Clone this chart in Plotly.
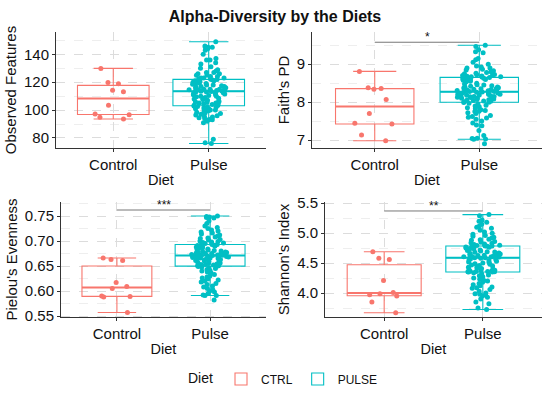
import numpy as np
import plotly.graph_objects as go

# ---------------- data ----------------
groups = ["Control", "Pulse"]
legend_names = ["CTRL", "PULSE"]
colors = ["#F8766D", "#00BFC4"]

obs_control = [93.6, 94.8, 96.7, 97.1, 103.5, 113.1, 114.3, 118.9, 119.8, 129.9]
obs_pulse = [149, 146, 145, 145, 145, 144, 143, 140, 137, 136, 136, 134, 133, 131, 130,
             129, 128, 127, 127, 126, 126, 125, 125, 124, 124, 123, 123, 123, 122.5, 122.2,
             122, 121.5, 121, 121, 120.5, 120, 120, 119.5, 119, 119, 118.5, 118, 118, 117.5, 117,
             117, 116.5, 116, 116, 115.5, 115, 115, 115, 114.5, 114.5, 114, 114, 113.8, 113.6, 113.5,
             113.4, 113, 113, 112.5, 112, 112, 111.5, 111, 111, 110.5, 110, 110, 109.5, 109, 108.5,
             108, 108, 107.5, 107, 106.5, 106, 106, 105.5, 105, 105, 104.5, 104, 104, 103.5, 103.2,
             103, 102.5, 102, 102, 101.5, 101, 101, 100.5, 100, 100, 99.5, 99, 98.5, 98, 97.5,
             97, 96.5, 96, 95.5, 95, 94.5, 94, 93.5, 93, 93, 92, 91, 79, 76.5, 76]

pd_control = [6.98, 7.13, 7.42, 7.44, 7.70, 8.07, 8.34, 8.36, 8.38, 8.81]
pd_pulse = [9.5, 9.47, 9.38, 9.33, 9.3, 9.15, 9.12, 9.05, 9.0, 8.95, 8.93, 8.9, 8.9, 8.87, 8.85,
            8.83, 8.8, 8.78, 8.76, 8.75, 8.73, 8.72, 8.7, 8.7, 8.69, 8.68, 8.67, 8.67, 8.66, 8.66,
            8.65, 8.63, 8.62, 8.6, 8.6, 8.58, 8.56, 8.55, 8.53, 8.5, 8.48, 8.46, 8.45, 8.43, 8.42,
            8.4, 8.4, 8.38, 8.37, 8.36, 8.35, 8.34, 8.33, 8.32, 8.31, 8.3, 8.3, 8.29, 8.28, 8.28,
            8.27, 8.26, 8.25, 8.24, 8.23, 8.22, 8.21, 8.2, 8.2, 8.19, 8.18, 8.17, 8.16, 8.15, 8.15,
            8.14, 8.13, 8.12, 8.11, 8.1, 8.1, 8.08, 8.07, 8.06, 8.05, 8.04, 8.03, 8.02, 8.01, 8.0,
            7.99, 7.97, 7.95, 7.92, 7.9, 7.88, 7.85, 7.83, 7.8, 7.78, 7.76, 7.75, 7.72, 7.7, 7.65,
            7.62, 7.6, 7.58, 7.55, 7.5, 7.45, 7.4, 7.38, 7.25, 7.12, 7.05, 7.04, 7.03, 7.02, 6.9]

pie_control = [0.557, 0.588, 0.589, 0.590, 0.605, 0.609, 0.617, 0.661, 0.663, 0.666]
pie_pulse = [0.750, 0.749, 0.748, 0.747, 0.746, 0.74, 0.735, 0.73, 0.727, 0.725, 0.722, 0.72,
             0.718, 0.716, 0.714, 0.712, 0.71, 0.708, 0.706, 0.705, 0.703, 0.702, 0.70, 0.699,
             0.698, 0.697, 0.696, 0.695, 0.694, 0.6935,
             0.693, 0.692, 0.691, 0.69, 0.689, 0.688, 0.687, 0.686, 0.685, 0.684, 0.683, 0.682,
             0.681, 0.68, 0.679, 0.678, 0.678, 0.677, 0.676, 0.676, 0.675, 0.675, 0.674, 0.674,
             0.673, 0.673, 0.672, 0.672, 0.6715, 0.671,
             0.671, 0.670, 0.670, 0.669, 0.669, 0.668, 0.668, 0.667, 0.667, 0.666, 0.666, 0.665,
             0.664, 0.664, 0.663, 0.662, 0.661, 0.66, 0.659, 0.658, 0.657, 0.656, 0.655, 0.654,
             0.653, 0.653, 0.652, 0.651, 0.6505, 0.65,
             0.649, 0.648, 0.646, 0.645, 0.643, 0.641, 0.64, 0.638, 0.636, 0.633, 0.63, 0.628,
             0.626, 0.624, 0.622, 0.62, 0.618, 0.615, 0.613, 0.61, 0.608, 0.605, 0.603, 0.60,
             0.598, 0.595, 0.592, 0.591, 0.591, 0.582]

sha_control = [3.67, 3.85, 3.95, 3.97, 3.99, 4.01, 4.21, 4.56, 4.58, 4.69]
sha_pulse = [5.31, 5.29, 5.22, 5.2, 5.18, 5.15, 5.12, 5.1, 5.08, 5.05, 5.02, 5.0, 4.98, 4.96, 4.95,
             4.93, 4.92, 4.9, 4.89, 4.88, 4.86, 4.85, 4.84, 4.83, 4.82, 4.81, 4.8, 4.795, 4.79, 4.786,
             4.784, 4.78, 4.77, 4.765, 4.76, 4.75, 4.745, 4.74, 4.73, 4.72, 4.71, 4.7, 4.69, 4.685,
             4.68, 4.67, 4.66, 4.65, 4.645, 4.64, 4.63, 4.625, 4.62, 4.61, 4.605, 4.6, 4.6, 4.595,
             4.59, 4.588,
             4.588, 4.58, 4.57, 4.56, 4.55, 4.54, 4.53, 4.52, 4.51, 4.5, 4.49, 4.48, 4.47, 4.46,
             4.45, 4.44, 4.43, 4.42, 4.41, 4.4, 4.39, 4.38, 4.375, 4.37, 4.365, 4.36, 4.36, 4.355,
             4.354, 4.353,
             4.35, 4.34, 4.32, 4.3, 4.29, 4.27, 4.25, 4.23, 4.21, 4.2, 4.18, 4.16, 4.14, 4.12, 4.1,
             4.09, 4.08, 4.06, 4.03, 4.0, 3.99, 3.98, 3.97, 3.95, 3.93, 3.9, 3.85, 3.82, 3.75, 3.726]

panel_titles = ["Observed Features", "Faith's PD", "Pielou's Evenness", "Shannon's Index"]
panel_data = [(obs_control, obs_pulse), (pd_control, pd_pulse),
              (pie_control, pie_pulse), (sha_control, sha_pulse)]
y_ranges = [[72.8, 156], [6.79, 9.85], [0.548, 0.778], [3.6, 5.52]]
y_dticks = [20, 1, 0.05, 0.5]
y_tick0 = [80, 7, 0.55, 4.0]
y_formats = ["", "", ".2f", ".1f"]
sig_labels = [None, "*", "***", "**"]
sig_levels = [None, 9.58, 0.762, 5.37]

# ---------------- layout geometry ----------------
W, H = 550, 394
panels_px = [  # x0, x1, ytop, ybottom in pixels
    (56, 266, 32, 148),
    (312, 542, 32, 148),
    (61, 266, 202, 317),
    (325, 542, 202, 317),
]

FONT = "Arial, Liberation Sans, sans-serif"
TXT = "#111111"
fig = go.Figure()


def stats(v):
    v = np.asarray(v, dtype=float)
    q1, med, q3 = np.percentile(v, [25, 50, 75])
    iqr = q3 - q1
    lo = v[v >= q1 - 1.5 * iqr].min()
    hi = v[v <= q3 + 1.5 * iqr].max()
    return q1, med, q3, lo, hi


for p, (ctrl, pulse) in enumerate(panel_data):
    xa = "x" if p == 0 else f"x{p+1}"
    ya = "y" if p == 0 else f"y{p+1}"
    for g, vals in enumerate([ctrl, pulse]):
        q1, med, q3, lo, hi = stats(vals)
        # box with whiskers (ggplot-style quartiles)
        fig.add_trace(go.Box(
            x=[groups[g]], q1=[q1], median=[med], q3=[q3],
            lowerfence=[lo], upperfence=[hi],
            width=0.75, whiskerwidth=0.55,
            line=dict(color=colors[g], width=1.1),
            fillcolor="rgba(255,255,255,0)",
            name=legend_names[g], legendgroup=legend_names[g],
            showlegend=(p == 0), xaxis=xa, yaxis=ya, hoverinfo="skip",
        ))
        # thicker median line
        fig.add_trace(go.Box(
            x=[groups[g]], q1=[med], median=[med], q3=[med],
            lowerfence=[med], upperfence=[med],
            width=0.75, whiskerwidth=0,
            line=dict(color=colors[g], width=2),
            fillcolor="rgba(255,255,255,0)",
            showlegend=False, xaxis=xa, yaxis=ya, hoverinfo="skip",
        ))
        # jittered points
        fig.add_trace(go.Box(
            x=[groups[g]] * len(vals), y=vals,
            boxpoints="all", jitter=0.6, pointpos=0, width=0.75,
            line=dict(color="rgba(0,0,0,0)", width=0),
            fillcolor="rgba(0,0,0,0)",
            marker=dict(color=colors[g], size=5, opacity=1),
            showlegend=False, xaxis=xa, yaxis=ya, hoverinfo="skip",
        ))

    x0, x1, yt, yb = panels_px[p]
    xkey = "xaxis" if p == 0 else f"xaxis{p+1}"
    ykey = "yaxis" if p == 0 else f"yaxis{p+1}"
    grid_col = "#dcdcdc"
    fig.layout[xkey] = dict(
        domain=[x0 / W, x1 / W], anchor=ya, automargin=False,
        type="category", categoryorder="array", categoryarray=groups,
        range=[-0.6, 1.6],
        showline=True, linecolor="#333333", linewidth=1,
        ticks="outside", ticklen=3, tickcolor="#333333",
        showgrid=True, gridcolor=grid_col, griddash="dash", gridwidth=1,
        tickfont=dict(family=FONT, size=15, color=TXT),
        title=dict(text="Diet", font=dict(family=FONT, size=14.5, color=TXT), standoff=2),
        zeroline=False,
    )
    fig.layout[ykey] = dict(
        domain=[1 - yb / H, 1 - yt / H], anchor=xa, automargin=False,
        range=y_ranges[p], tick0=y_tick0[p], dtick=y_dticks[p], tickformat=y_formats[p],
        showline=True, linecolor="#333333", linewidth=1,
        ticks="outside", ticklen=3, tickcolor="#333333",
        showgrid=True, gridcolor=grid_col, griddash="dash", gridwidth=1,
        minor=dict(dtick=y_dticks[p] / 2, tick0=y_tick0[p], showgrid=True,
                   gridcolor="#eeeeee", griddash="dash", ticks=""),
        tickfont=dict(family=FONT, size=15, color=TXT),
        title=dict(text=panel_titles[p], font=dict(family=FONT, size=15, color=TXT),
                   standoff=3),
        zeroline=False,
    )

    if sig_labels[p]:
        fig.add_shape(type="line", xref=xa, yref=ya, x0=0, x1=1,
                      y0=sig_levels[p], y1=sig_levels[p],
                      line=dict(color="#777777", width=1))
        fig.add_annotation(xref=xa, yref=ya, x=0.5, y=sig_levels[p], text=sig_labels[p],
                           showarrow=False, yanchor="bottom", yshift=-4,
                           font=dict(family=FONT, size=12, color=TXT))

fig.update_layout(
    width=W, height=H,
    margin=dict(l=0, r=0, t=0, b=0, autoexpand=False),
    paper_bgcolor="white", plot_bgcolor="white",
    boxmode="overlay",
    title=dict(text="<b>Alpha-Diversity by the Diets</b>", x=0.5, xanchor="center",
               y=1 - 16 / H, yanchor="middle",
               font=dict(family=FONT, size=16, color=TXT)),
    legend=dict(orientation="h", x=186 / W, xanchor="left", y=1 - 379 / H, yanchor="middle",
                title=dict(text="Diet", font=dict(family=FONT, size=14, color=TXT)),
                font=dict(family=FONT, size=12, color=TXT)),
    font=dict(family=FONT),
)

fig.write_html("out.html", config={"displayModeBar": False},
               post_script="document.body.style.margin='0px';")
